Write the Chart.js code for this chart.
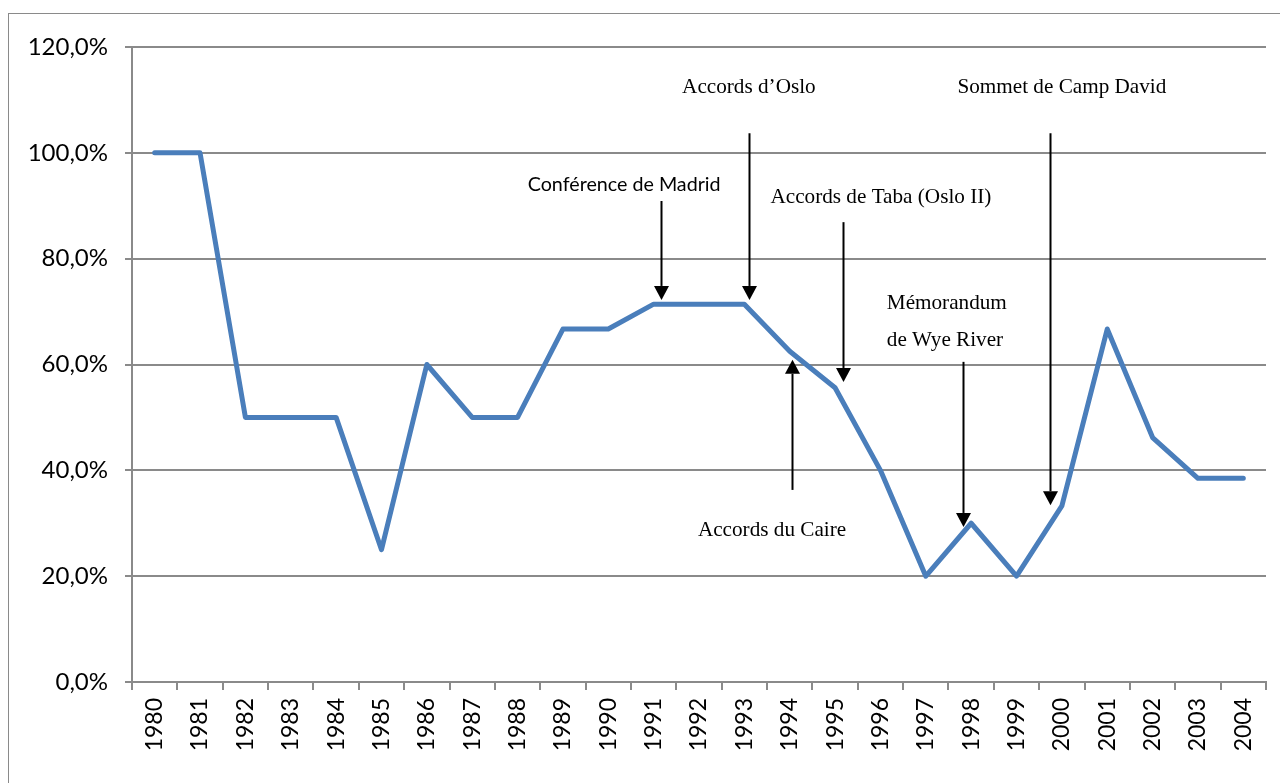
<!DOCTYPE html>
<html>
<head>
<meta charset="utf-8">
<script src="https://cdn.jsdelivr.net/npm/chart.js@4.4.0/dist/chart.umd.min.js"></script>
<style>
    html, body { margin: 0; padding: 0; background: #fff; overflow: hidden; }
    #wrap { position: relative; width: 1280px; height: 783px; }
    #frame { position: absolute; left: 8px; top: 13px; width: 1300px; height: 800px; border: 1.5px solid #8a8a8a; }
    canvas { position: absolute; left: 0; top: 0; }
</style>
</head>
<body>
<div id="wrap">
    <div id="frame"></div>
    <canvas id="chart" width="1280" height="783"></canvas>
</div>
<script>
const years = ['1980', '1981', '1982', '1983', '1984', '1985', '1986', '1987', '1988', '1989',
    '1990', '1991', '1992', '1993', '1994', '1995', '1996', '1997', '1998', '1999',
    '2000', '2001', '2002', '2003', '2004'];
const shares = [100, 100, 50, 50, 50, 25, 60, 50, 50, 66.7,
    66.7, 71.4, 71.4, 71.4, 62.5, 55.6, 40, 20, 30, 20,
    33.3, 66.7, 46.2, 38.5, 38.5];
const yTicks = [0, 20, 40, 60, 80, 100, 120];

// events: x = category index (fractional), arrow from y0 to tip y1 (in %), text anchor in data units
const events = [
    { lines: ['Conférence de Madrid'], x: 11.16, y0: 90.9, y1: 72.2, tx: 10.35, ty: 93.9, serif: false, align: 'center' },
    { lines: ['Accords d\u2019Oslo'], x: 13.10, y0: 103.7, y1: 72.2, tx: 13.10, ty: 112.4, serif: true, align: 'center' },
    { lines: ['Accords de Taba (Oslo II)'], x: 15.17, y0: 86.9, y1: 56.7, tx: 16.01, ty: 91.5, serif: true, align: 'center' },
    { lines: ['Accords du Caire'], x: 14.05, y0: 36.3, y1: 60.9, tx: 13.61, ty: 28.7, serif: true, align: 'center' },
    { lines: ['Mémorandum', 'de Wye River'], x: 17.82, y0: 60.5, y1: 29.3, tx: 16.14, ty: 71.6, serif: true, align: 'left' },
    { lines: ['Sommet de Camp David'], x: 19.74, y0: 103.7, y1: 33.4, tx: 20.0, ty: 112.4, serif: true, align: 'center' }
];

const GREY = '#8a8a8a';

function xAt(scale, v) {
    const i = Math.floor(v);
    const a = scale.getPixelForValue(i);
    const b = scale.getPixelForValue(i + 1);
    return a + (b - a) * (v - i);
}

const eventPlugin = {
    id: 'events',
    afterDatasetsDraw(chart) {
        const { ctx, scales: { x, y } } = chart;
        ctx.save();
        ctx.strokeStyle = '#000';
        ctx.fillStyle = '#000';
        ctx.lineWidth = 2;
        events.forEach(ev => {
            const px = Math.round(xAt(x, ev.x)) + 0.5;
            const p0 = y.getPixelForValue(ev.y0);
            const p1 = y.getPixelForValue(ev.y1);
            const dir = p1 > p0 ? 1 : -1;
            const head = 14;
            ctx.beginPath();
            ctx.moveTo(px, p0);
            ctx.lineTo(px, p1 - dir * head);
            ctx.stroke();
            ctx.beginPath();
            ctx.moveTo(px - 7.5, p1 - dir * head);
            ctx.lineTo(px + 7.5, p1 - dir * head);
            ctx.lineTo(px, p1);
            ctx.closePath();
            ctx.fill();

            ctx.font = ev.serif ? '21.2px "Liberation Serif"' : '19.7px Lato';
            ctx.textAlign = ev.align;
            ctx.textBaseline = 'middle';
            const tx = xAt(x, ev.tx);
            let ty = y.getPixelForValue(ev.ty);
            ev.lines.forEach(line => {
                ctx.fillText(line, tx, ty);
                ty += 37;
            });
        });
        ctx.restore();
    }
};

new Chart(document.getElementById('chart'), {
    type: 'line',
    data: {
        labels: years,
        datasets: [{
            data: shares,
            borderColor: '#4a7ebb',
            borderWidth: 5,
            borderCapStyle: 'round',
            borderJoinStyle: 'round',
            pointRadius: 0,
            tension: 0
        }]
    },
    options: {
        responsive: false,
        animation: false,
        devicePixelRatio: 1,
        layout: { padding: { left: 0, top: 47, right: 14, bottom: 0 } },
        plugins: { legend: { display: false }, tooltip: { enabled: false } },
        scales: {
            x: {
                offset: true,
                grid: { offset: true, drawOnChartArea: false, drawTicks: true, tickLength: 8, color: GREY, lineWidth: 2 },
                border: { color: GREY, width: 2 },
                ticks: {
                    autoSkip: false, minRotation: 90, maxRotation: 90, padding: 8,
                    color: '#000', font: { family: 'Lato', size: 23 }
                },
                afterFit(scale) { scale.height = 101; }
            },
            y: {
                min: 0, max: 120,
                afterBuildTicks(scale) { scale.ticks = yTicks.map(v => ({ value: v })); },
                grid: { color: GREY, lineWidth: 2, tickLength: 7 },
                border: { color: GREY, width: 2 },
                ticks: {
                    padding: 17, color: '#000', font: { family: 'Lato', size: 24 },
                    callback: v => v.toFixed(1).replace('.', ',') + '%'
                },
                afterFit(scale) { scale.width = 132; }
            }
        }
    },
    plugins: [eventPlugin]
});
</script>
</body>
</html>
